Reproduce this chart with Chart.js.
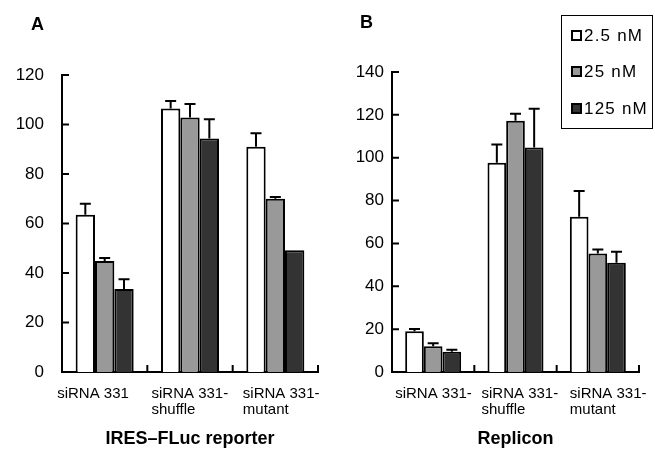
<!DOCTYPE html>
<html>
<head>
<meta charset="utf-8">
<script src="https://cdn.jsdelivr.net/npm/chart.js@4.4.1/dist/chart.umd.min.js"></script>
<style>
  body { margin: 0; width: 655px; height: 451px; overflow: hidden; background: #fff; position: relative;
         font-family: "Liberation Sans", Arial, sans-serif; color: #000; }
  canvas { position: absolute; top: 0; }
  #chartA { left: 0; }
  #chartB { left: 330px; }
  .panel { position: absolute; font-weight: bold; font-size: 18px; line-height: 20px; }
  #legend { position: absolute; left: 561px; top: 15px; width: 92px; height: 114px;
            border: 1.5px solid #000; box-sizing: border-box; }
  .item { position: absolute; left: 9px; height: 20px; line-height: 20px; font-size: 17px;
          letter-spacing: 1.2px; white-space: nowrap; }
  .swatch { display: inline-block; width: 7px; height: 7px; border: 2px solid #000;
            margin-right: 2px; vertical-align: 0px; }
</style>
</head>
<body>
<canvas id="chartA" width="330" height="451"></canvas>
<canvas id="chartB" width="325" height="451"></canvas>
<div class="panel" style="left:31px; top:14px;">A</div>
<div class="panel" style="left:360px; top:12px;">B</div>
<div id="legend"></div>
<script>
const seriesNames = ['2.5 nM', '25 nM', '125 nM'];
const seriesColors = ['#ffffff', '#999999', '#333333'];

// panel A: IRES-FLuc reporter
const categoriesA = [['siRNA 331'], ['siRNA 331-', 'shuffle'], ['siRNA 331-', 'mutant']];
const reporterLow = [63.5, 106.5, 91];
const reporterMid = [44.8, 102.8, 70];
const reporterHigh = [33.5, 94.3, 49.2];
const reporterErrLow = [4.5, 3, 5.5];
const reporterErrMid = [1.3, 5.5, 0.7];
const reporterErrHigh = [4, 7.8, 0];
const yTicksA = [0, 20, 40, 60, 80, 100, 120];

// panel B: Replicon
const categoriesB = [['siRNA 331-'], ['siRNA 331-', 'shuffle'], ['siRNA 331-', 'mutant']];
const repliconLow = [19, 97.7, 72.5];
const repliconMid = [12, 117.2, 55.3];
const repliconHigh = [9.5, 104.8, 51];
const repliconErrLow = [1.1, 8.5, 12];
const repliconErrMid = [1.4, 3.3, 1.9];
const repliconErrHigh = [0.9, 18.1, 5.1];
const yTicksB = [0, 20, 40, 60, 80, 100, 120, 140];

const FONT = '"Liberation Sans", Arial, sans-serif';

// upper error whiskers
const errorBars = {
  id: 'errorBars',
  afterDatasetsDraw(chart) {
    const ctx = chart.ctx;
    const y = chart.scales.y;
    ctx.save();
    ctx.strokeStyle = '#000';
    ctx.lineWidth = 2;
    chart.data.datasets.forEach((ds, di) => {
      chart.getDatasetMeta(di).data.forEach((bar, i) => {
        const e = ds.errors[i];
        if (!e) return;
        const top = y.getPixelForValue(ds.data[i]);
        const end = y.getPixelForValue(ds.data[i] + e);
        ctx.beginPath();
        ctx.moveTo(bar.x, top);
        ctx.lineTo(bar.x, end);
        ctx.moveTo(bar.x - 5.5, end);
        ctx.lineTo(bar.x + 5.5, end);
        ctx.stroke();
      });
    });
    ctx.restore();
  }
};

// tick marks pointing into the plot + left-aligned category labels
const axisDecor = {
  id: 'axisDecor',
  afterDraw(chart, args, opts) {
    const { ctx, chartArea: a, scales: { x, y } } = chart;
    ctx.save();
    ctx.strokeStyle = '#000';
    ctx.lineWidth = 2;
    ctx.beginPath();
    y.ticks.forEach(t => {
      if (t.value === 0) return;
      const py = y.getPixelForValue(t.value);
      ctx.moveTo(a.left, py);
      ctx.lineTo(a.left + 7, py);
    });
    const half = (x.getPixelForValue(1) - x.getPixelForValue(0)) / 2;
    x.ticks.forEach((t, i) => {
      const px = x.getPixelForValue(i) + half;
      ctx.moveTo(px, a.bottom + 1);
      ctx.lineTo(px, a.bottom - 7);
    });
    ctx.stroke();

    ctx.fillStyle = '#000';
    ctx.font = '15px ' + FONT;
    ctx.textAlign = 'left';
    ctx.textBaseline = 'alphabetic';
    chart.data.labels.forEach((lines, i) => {
      const px = x.getPixelForValue(i) + opts.shift[i];
      lines.forEach((line, k) => ctx.fillText(line, px, a.bottom + 26 + k * 15.5));
    });
    ctx.restore();
  }
};

function makeChart(id, categories, values, errors, yTicks, title, cfg) {
  return new Chart(document.getElementById(id), {
    type: 'bar',
    data: {
      labels: categories,
      datasets: values.map((v, i) => ({
        label: seriesNames[i],
        data: v,
        errors: errors[i],
        backgroundColor: seriesColors[i],
        borderColor: '#000',
        borderWidth: 2,
        borderSkipped: 'start',
        categoryPercentage: 0.68,
        barPercentage: 1
      }))
    },
    options: {
      responsive: false,
      animation: false,
      layout: { padding: { top: cfg.top, right: cfg.right, left: 0, bottom: 0 } },
      plugins: {
        legend: { display: false },
        tooltip: { enabled: false },
        axisDecor: { shift: cfg.labelShift }
      },
      scales: {
        x: {
          offset: true,
          grid: { display: false, drawTicks: false },
          border: { color: '#000', width: 2 },
          ticks: { display: false },
          title: {
            display: true, text: title, color: '#000',
            font: { family: FONT, size: 18, weight: 'bold' },
            padding: { top: 0, bottom: 1 }
          },
          afterFit: s => { s.height = 79; s.paddingLeft = 0; s.paddingRight = 0; }
        },
        y: {
          min: yTicks[0],
          max: yTicks[yTicks.length - 1],
          grid: { display: false, drawTicks: false },
          border: { color: '#000', width: 2 },
          ticks: {
            stepSize: yTicks[1] - yTicks[0], color: '#000',
            font: { family: FONT, size: 17 }, padding: cfg.yPad
          },
          afterFit: s => { s.width = 62; }
        }
      }
    },
    plugins: [errorBars, axisDecor]
  });
}

makeChart('chartA', categoriesA,
  [reporterLow, reporterMid, reporterHigh],
  [reporterErrLow, reporterErrMid, reporterErrHigh],
  yTicksA, 'IRES\u2013FLuc reporter',
  { top: 75, right: 12, yPad: 18, labelShift: [-47.5, -38.5, -32.5] });

makeChart('chartB', categoriesB,
  [repliconLow, repliconMid, repliconHigh],
  [repliconErrLow, repliconErrMid, repliconErrHigh],
  yTicksB, 'Replicon',
  { top: 72, right: 16, yPad: 8, labelShift: [-38, -34, -28] });

// boxed legend
const legend = document.getElementById('legend');
const rowTops = [10, 46, 83];
seriesNames.forEach((name, i) => {
  const row = document.createElement('div');
  row.className = 'item';
  row.style.top = rowTops[i] + 'px';
  row.innerHTML = '<span class="swatch" style="background:' + seriesColors[i] + '"></span>' + name;
  legend.appendChild(row);
});
</script>
</body>
</html>
